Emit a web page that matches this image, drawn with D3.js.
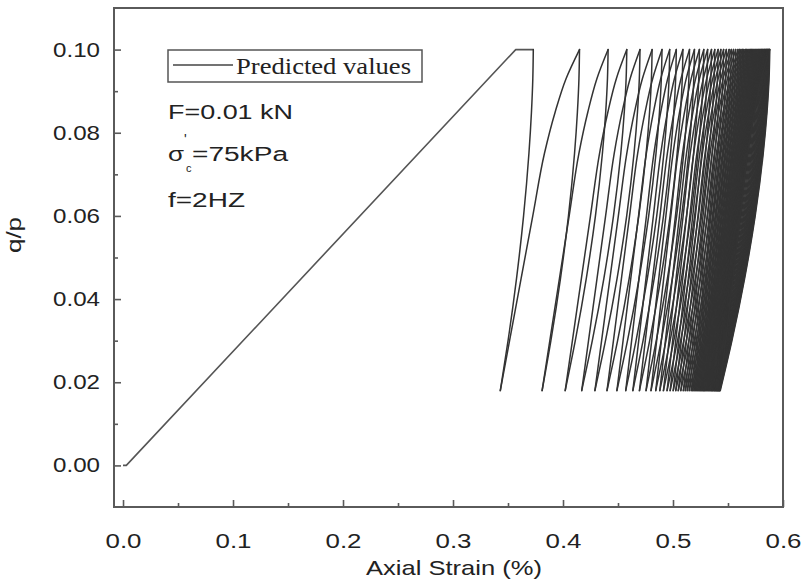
<!DOCTYPE html>
<html>
<head>
<meta charset="utf-8">
<script src="https://cdn.jsdelivr.net/npm/d3@7"></script>
<style>
  html, body { margin: 0; padding: 0; background: #fff; }
  svg { display: block; }
</style>
</head>
<body>
<svg id="chart" width="802" height="582"></svg>
<script>
// ---------------- data ----------------
// initial monotonic loading branch
const monoStrain = [0.000, 0.003, 0.357, 0.373];
const monoQ      = [0.000, 0.000, 0.100, 0.100];

// cyclic loading: strain at each peak (q/p = 0.10) and at the following valley (q/p = 0.018)
const peakStrain = [
  0.373, 0.415, 0.441, 0.458, 0.470, 0.481, 0.490, 0.497, 0.503, 0.509,
  0.515, 0.5195, 0.524, 0.528, 0.5315, 0.535, 0.538, 0.541, 0.5435, 0.546,
  0.5485, 0.551, 0.553, 0.555, 0.557, 0.559, 0.5604, 0.5618, 0.5631, 0.5644,
  0.5657, 0.5669, 0.5681, 0.5692, 0.5703, 0.5714, 0.5724, 0.5734, 0.5744, 0.5753,
  0.5762, 0.5771, 0.5779, 0.5787, 0.5795, 0.5802, 0.5809, 0.5816, 0.5823, 0.5829,
  0.5835, 0.5841, 0.5847, 0.5852, 0.5857, 0.5862, 0.5867, 0.5872, 0.5876, 0.588
];
const valleyStrain = [
  0.343, 0.381, 0.402, 0.417, 0.429, 0.440, 0.449, 0.457, 0.4635, 0.4695,
  0.4755, 0.480, 0.4843, 0.488, 0.4913, 0.4946, 0.4974, 0.5002, 0.5025, 0.5048,
  0.5071, 0.5094, 0.5112, 0.513, 0.5148, 0.5166, 0.5178, 0.519, 0.5201, 0.5212,
  0.5223, 0.5233, 0.5243, 0.5252, 0.5261, 0.527, 0.5278, 0.5286, 0.5294, 0.5303,
  0.5312, 0.5321, 0.5329, 0.5337, 0.5345, 0.5352, 0.5359, 0.5366, 0.5373, 0.5379,
  0.5385, 0.5391, 0.5397, 0.5402, 0.5407, 0.5412, 0.5417, 0.5422, 0.5426, 0.543
];
// branch shape read from the first loop: share of the strain change reached at each q/p level
const qLevels    = [0.018, 0.030, 0.045, 0.060, 0.075, 0.085, 0.093, 0.100];
const reloadFrac = [0.00, 0.117, 0.263, 0.41, 0.557, 0.693, 0.83, 1.00];   // valley -> next peak
const unloadFrac = [1.00, 0.765, 0.508, 0.295, 0.133, 0.056, 0.015, 0.00]; // peak -> valley (share of drop)

// axis ticks
const xMajor = [0, 0.1, 0.2, 0.3, 0.4, 0.5, 0.6];
const xMinor = [0.05, 0.15, 0.25, 0.35, 0.45, 0.55];
const yMajor = [0.00, 0.02, 0.04, 0.06, 0.08, 0.10];
const yMinor = [0.01, 0.03, 0.05, 0.07, 0.09];
const xLabels = ["0.0", "0.1", "0.2", "0.3", "0.4", "0.5", "0.6"];
const yLabels = ["0.00", "0.02", "0.04", "0.06", "0.08", "0.10"];

// ---------------- drawing ----------------
const svg = d3.select("#chart");
const L = 114, R = 783, T = 8, B = 507;
const x = d3.scaleLinear().domain([-0.0082, 0.6]).range([L, R]);
const y = d3.scaleLinear().domain([-0.01, 0.11]).range([B, T]);

const axisColor = "#5a5a5a";
const lineColor = "#333";
const sans = "'Liberation Sans', Arial, Helvetica, sans-serif";
const serif = "'Liberation Serif', 'Times New Roman', serif";

const plot = svg.append("g");
const line = d3.line().x(d => x(d[0])).y(d => y(d[1])).curve(d3.curveMonotoneY);
const lineLin = d3.line().x(d => x(d[0])).y(d => y(d[1]));

// monotonic branch
plot.append("path")
  .attr("d", lineLin(monoStrain.map((s, i) => [s, monoQ[i]])))
  .attr("fill", "none").attr("stroke", "#555").attr("stroke-width", 1.6)
  .attr("stroke-linejoin", "round");

// cyclic branches
const branches = [];
peakStrain.forEach((p, i) => {
  const v = valleyStrain[i];
  branches.push(qLevels.map((q, k) => [p - unloadFrac[k] * (p - v), q]));
  if (i + 1 < peakStrain.length) {
    const pn = peakStrain[i + 1];
    branches.push(qLevels.map((q, k) => [v + reloadFrac[k] * (pn - v), q]));
  }
});
plot.selectAll("path.branch").data(branches).join("path")
  .attr("class", "branch")
  .attr("d", line)
  .attr("fill", "none").attr("stroke", lineColor).attr("stroke-width", 1.5)
  .attr("stroke-linecap", "round");

// axes (ticks pointing inward)
const gy = svg.append("g").attr("transform", `translate(${L},0)`);
gy.call(d3.axisLeft(y).tickValues(yMajor).tickSize(-7).tickPadding(14)
  .tickFormat((d, i) => yLabels[i]));
const gyMinor = svg.append("g").attr("transform", `translate(${L},0)`);
gyMinor.call(d3.axisLeft(y).tickValues(yMinor).tickSize(-4).tickFormat(""));

const gx = svg.append("g").attr("transform", `translate(0,${B})`);
gx.call(d3.axisBottom(x).tickValues(xMajor).tickSize(-7).tickPadding(25)
  .tickFormat((d, i) => xLabels[i]));
const gxMinor = svg.append("g").attr("transform", `translate(0,${B})`);
gxMinor.call(d3.axisBottom(x).tickValues(xMinor).tickSize(-4).tickFormat(""));

[gy, gyMinor, gx, gxMinor].forEach(g => {
  g.select(".domain").remove();
  g.selectAll(".tick line").attr("stroke", axisColor).attr("stroke-width", 1.6);
});
gy.selectAll(".tick text")
  .attr("font-family", sans).attr("font-size", 20.5).attr("fill", "#222")
  .attr("textLength", 47).attr("lengthAdjust", "spacingAndGlyphs");
gx.selectAll(".tick text")
  .attr("font-family", sans).attr("font-size", 20.5).attr("fill", "#222")
  .attr("y", 41).attr("dy", 0)
  .attr("textLength", 36).attr("lengthAdjust", "spacingAndGlyphs");

// frame
svg.append("rect").attr("x", L).attr("y", T).attr("width", R - L).attr("height", B - T)
  .attr("fill", "none").attr("stroke", axisColor).attr("stroke-width", 2);

// axis titles
svg.append("text").text("Axial Strain (%)")
  .attr("x", 366).attr("y", 575)
  .attr("font-family", sans).attr("font-size", 21).attr("fill", "#222")
  .attr("textLength", 176).attr("lengthAdjust", "spacingAndGlyphs");
svg.append("text").text("q/p")
  .attr("transform", "translate(21,253) rotate(-90)")
  .attr("font-family", sans).attr("font-size", 21).attr("fill", "#222")
  .attr("textLength", 36).attr("lengthAdjust", "spacingAndGlyphs");

// legend
svg.append("rect").attr("x", 168).attr("y", 50).attr("width", 254).attr("height", 32)
  .attr("fill", "#fff").attr("stroke", "#555").attr("stroke-width", 1.5);
svg.append("line").attr("x1", 173).attr("x2", 233).attr("y1", 65).attr("y2", 65)
  .attr("stroke", "#444").attr("stroke-width", 1.3);
svg.append("text").text("Predicted values")
  .attr("x", 236).attr("y", 74)
  .attr("font-family", serif).attr("font-size", 24).attr("fill", "#222")
  .attr("textLength", 175).attr("lengthAdjust", "spacingAndGlyphs");

// annotations
const ann = svg.append("g").attr("font-family", sans).attr("fill", "#222");
ann.append("text").text("F=0.01 kN").attr("x", 168).attr("y", 119)
  .attr("font-size", 20).attr("textLength", 125).attr("lengthAdjust", "spacingAndGlyphs");
ann.append("text").text("σ").attr("x", 168).attr("y", 161)
  .attr("font-size", 20).attr("textLength", 16).attr("lengthAdjust", "spacingAndGlyphs");
ann.append("text").text("'").attr("x", 184).attr("y", 144).attr("font-size", 14);
ann.append("text").text("c").attr("x", 186).attr("y", 172).attr("font-size", 11);
ann.append("text").text("=75kPa").attr("x", 192).attr("y", 161)
  .attr("font-size", 20).attr("textLength", 96).attr("lengthAdjust", "spacingAndGlyphs");
ann.append("text").text("f=2HZ").attr("x", 168).attr("y", 207)
  .attr("font-size", 20).attr("textLength", 77).attr("lengthAdjust", "spacingAndGlyphs");
</script>
</body>
</html>
